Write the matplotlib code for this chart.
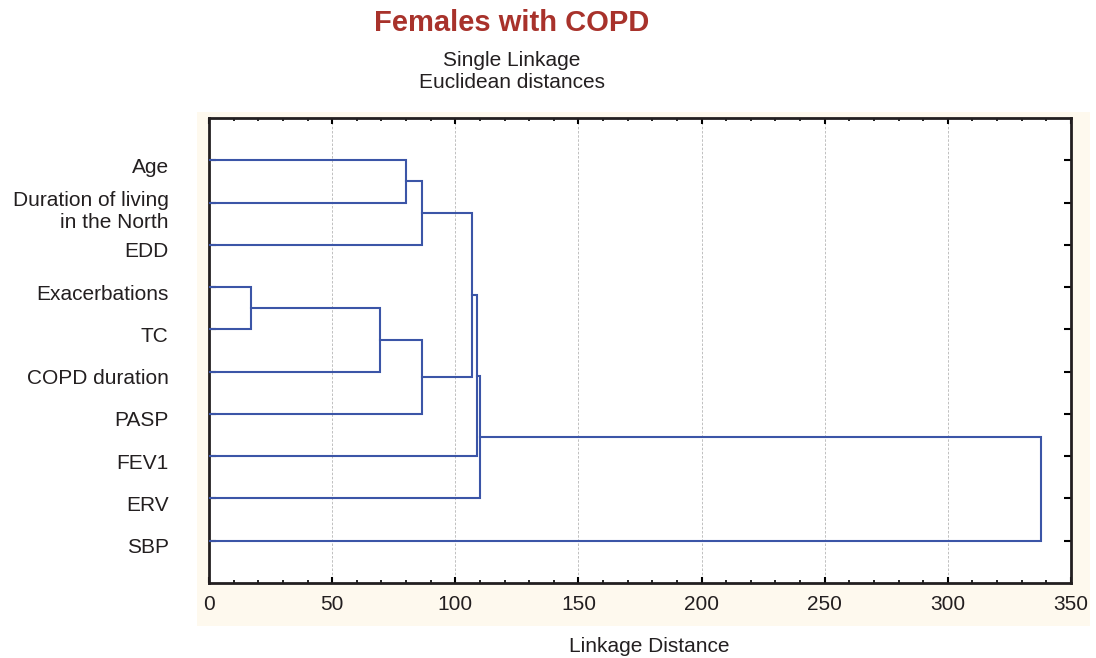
import matplotlib
matplotlib.use("Agg")
import matplotlib.pyplot as plt
import matplotlib.transforms as mtransforms
from matplotlib.patches import Rectangle
from matplotlib.ticker import MultipleLocator

plt.rcParams['font.family'] = ['Liberation Sans', 'DejaVu Sans']

# leaves, top to bottom
leaves = ["Age", "Duration of living\nin the North", "EDD", "Exacerbations", "TC",
          "COPD duration", "PASP", "FEV1", "ERV", "SBP"]

# single linkage merges: clusters 0..9 are leaves, new clusters get 10, 11, ...
merge_left = [0, 3, 10, 11, 13, 12, 15, 16, 17]
merge_right = [1, 4, 2, 5, 6, 14, 7, 8, 9]
merge_dist = [80.1, 17.2, 86.6, 69.3, 86.4, 106.7, 108.9, 110.2, 337.8]

line_col = "#3b55a7"
txt_col = "#231f20"

fig = plt.figure(figsize=(10.96, 6.58), dpi=100)
fig.patches.append(Rectangle((197 / 1096, 1 - 626 / 658), (1090 - 197) / 1096, (626 - 112) / 658,
                             transform=fig.transFigure, facecolor="#fef9ee", edgecolor="none", zorder=-5))
ax = fig.add_axes([209 / 1096, 1 - 583 / 658, (1071 - 209) / 1096, (583 - 118) / 658])
ax.set_facecolor("white")

# node positions
ypos = {i: i + 1.0 for i in range(len(leaves))}
xpos = {i: 0.0 for i in range(len(leaves))}
for k in range(len(merge_dist)):
    a, b, d = merge_left[k], merge_right[k], merge_dist[k]
    ax.plot([xpos[a], d, d, xpos[b]], [ypos[a], ypos[a], ypos[b], ypos[b]],
            color=line_col, lw=1.5, solid_joinstyle="miter", zorder=3)
    new = len(leaves) + k
    ypos[new] = (ypos[a] + ypos[b]) / 2
    xpos[new] = d

ax.set_xlim(0, 350)
ax.set_ylim(len(leaves) + 1, 0)
ax.xaxis.set_major_locator(MultipleLocator(50))
ax.xaxis.set_minor_locator(MultipleLocator(10))
ax.set_yticks(range(1, len(leaves) + 1))

ax.tick_params(axis="x", which="major", direction="in", top=True, bottom=True, length=4, width=1.5,
               labelsize=15, pad=9, labelcolor=txt_col)
ax.tick_params(axis="x", which="minor", direction="in", top=True, bottom=True, length=2.5, width=1.2)
ax.tick_params(axis="y", which="major", direction="in", left=True, right=True, length=5, width=1.5,
               pad=29)
ax.set_yticklabels(leaves, fontsize=15, color=txt_col, linespacing=1.2)
# labels sit a little below their ticks in the original
offset = mtransforms.ScaledTranslation(0, -5 / 100, fig.dpi_scale_trans)
for lab in ax.yaxis.get_majorticklabels():
    lab.set_transform(lab.get_transform() + offset)

for s in ax.spines.values():
    s.set_linewidth(2)
    s.set_color(txt_col)

ax.grid(axis="x", which="major", color="#b5b5b5", linestyle=(0, (3, 2)), lw=0.6, zorder=1)

fig.text(649 / 1096, 1 - 646 / 658, "Linkage Distance", fontsize=15, color=txt_col,
         ha="center", va="center")
fig.text(512 / 1096, 1 - 23 / 658, "Females with COPD", fontsize=21, fontweight="bold",
         color="#a8322b", ha="center", va="center")
fig.text(512 / 1096, 1 - 71 / 658, "Single Linkage\nEuclidean distances", fontsize=15,
         color=txt_col, ha="center", va="center", linespacing=1.2)

fig.savefig("out.png", dpi=100)
